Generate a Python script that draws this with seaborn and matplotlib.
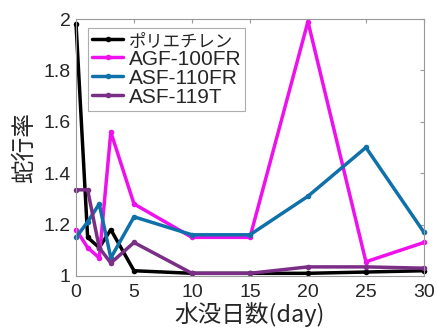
import seaborn as sns
import numpy as np
import pandas as pd
import matplotlib.pyplot as plt

days = [0, 1, 2, 3, 5, 10, 15, 20, 25, 30]
polyethylene = [1.98, 1.15, 1.11, 1.18, 1.02, 1.01, 1.01, 1.01, 1.015, 1.02]
agf_100fr = [1.18, 1.11, 1.07, 1.56, 1.28, 1.15, 1.15, 1.99, 1.055, 1.13]
asf_110fr = [1.15, 1.21, 1.28, 1.07, 1.23, 1.16, 1.16, 1.31, 1.50, 1.17]
asf_119t = [1.335, 1.335, 1.11, 1.05, 1.13, 1.01, 1.01, 1.035, 1.035, 1.03]

names = ["ポリエチレン", "AGF-100FR", "ASF-110FR", "ASF-119T"]
colors = ["#000000", "#EE11EE", "#1070AA", "#7A2E86"]

df = pd.concat([
    pd.DataFrame({"day": days, "val": v, "name": n})
    for v, n in zip([polyethylene, agf_100fr, asf_110fr, asf_119t], names)
])

sns.set_style("white")
plt.rcParams['font.family'] = ['Liberation Sans', 'Noto Sans CJK JP']

fig = plt.figure(figsize=(4.37, 3.34), dpi=100)
ax = fig.add_axes([0.174, 0.174, 0.796, 0.769])

sns.lineplot(data=df, x="day", y="val", hue="name", hue_order=names,
             palette=colors, marker="o", markersize=4, markeredgewidth=0,
             linewidth=2.5, ax=ax)
for ln in ax.lines:
    ln.set_clip_on(False)

ax.set_xlim(0, 30)
ax.set_ylim(1, 2)
ax.set_xticks([0, 5, 10, 15, 20, 25, 30])
ax.set_yticks([1, 1.2, 1.4, 1.6, 1.8, 2])
ax.set_yticklabels(["1", "1.2", "1.4", "1.6", "1.8", "2"])
ax.tick_params(direction="in", length=3, labelsize=14, color="#999999",
               top=True, right=True)
ax.tick_params(axis="x", pad=6)
ax.tick_params(axis="y", pad=4)
for s in ax.spines.values():
    s.set_color("#999999")
    s.set_linewidth(0.8)
ax.set_xlabel("水没日数(day)", fontsize=17, labelpad=1,
              family=['Noto Sans CJK JP'])
ax.set_ylabel("蛇行率", fontsize=17, labelpad=5,
              family=['Noto Sans CJK JP'])

leg = ax.legend(loc="upper left", bbox_to_anchor=(0.034, 0.965), fontsize=15,
                frameon=True, fancybox=False, edgecolor="#999999",
                handlelength=1.5, handletextpad=0.25, borderpad=0.2,
                labelspacing=0.0, borderaxespad=0)
leg.get_frame().set_linewidth(0.8)
leg.get_texts()[0].set_fontsize(12.5)

fig.savefig("out.png", dpi=100)
